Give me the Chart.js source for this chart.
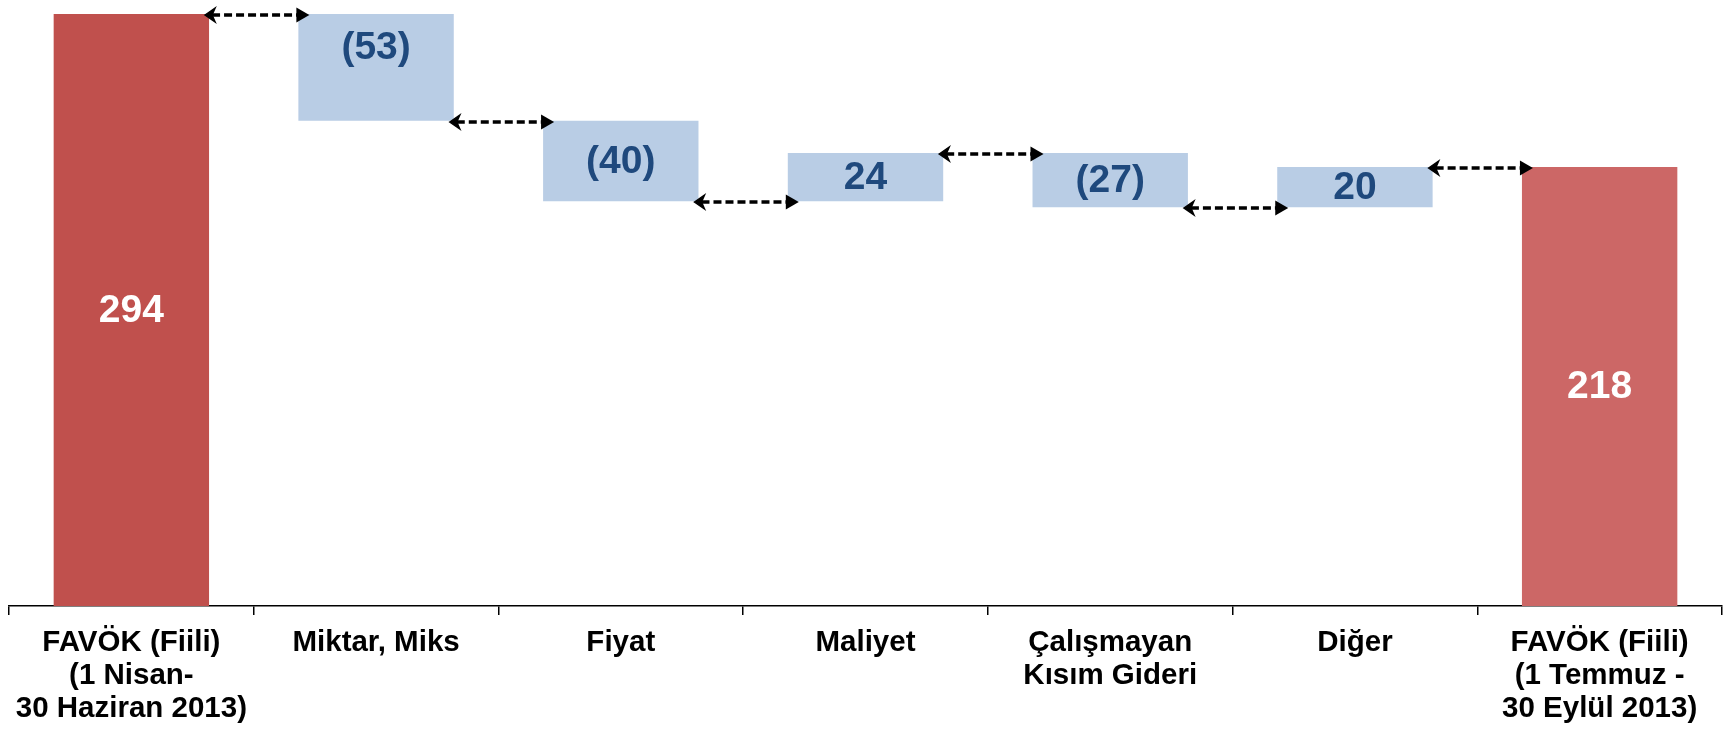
<!DOCTYPE html>
<html>
<head>
<meta charset="utf-8">
<script src="https://cdn.jsdelivr.net/npm/chart.js@4"></script>
<style>
    html, body { margin: 0; padding: 0; background: #fff; }
    #wrap { width: 1731px; height: 731px; }
</style>
</head>
<body>
<div id="wrap"><canvas id="waterfallChart"></canvas></div>
<script>
const categories = [
    ["FAVÖK (Fiili)", "(1 Nisan-", "30 Haziran 2013)"],
    "Miktar, Miks",
    "Fiyat",
    "Maliyet",
    ["Çalışmayan", "Kısım Gideri"],
    "Diğer",
    ["FAVÖK (Fiili)", "(1 Temmuz -", "30 Eylül 2013)"]
];
const values = [294, -53, -40, 24, -27, 20, 218];
const isTotal = [true, false, false, false, false, false, true];

const totalColors = ["#C0504D", "#CC6766"];
const deltaColor = "#B9CDE5";

// floating bars: totals start at zero, changes start at running sum
let running = 0;
const bars = values.map((v, i) => {
    if (isTotal[i]) {
        running = v;
        return [0, v];
    }
    const from = running;
    running += v;
    return [from, running];
});
const levels = bars.map(b => b[1]);

const fmt = v => v < 0 ? "(" + Math.abs(v) + ")" : String(v);

const barColors = values.map((v, i) => {
    if (!isTotal[i]) return deltaColor;
    return i === 0 ? totalColors[0] : totalColors[1];
});

const labelPlugin = {
    id: "waterfallLabels",
    afterDatasetsDraw(chart) {
        const ctx = chart.ctx;
        const meta = chart.getDatasetMeta(0);
        const yScale = chart.scales.y;
        ctx.save();

        // dashed connector arrows
        ctx.strokeStyle = "#000";
        ctx.fillStyle = "#000";
        for (let i = 0; i < meta.data.length - 1; i++) {
            const a = meta.data[i], b = meta.data[i + 1];
            const y = Math.round(yScale.getPixelForValue(levels[i])) + 1;
            const x1 = a.x + a.width / 2 - 4;
            const x2 = b.x - b.width / 2 + 11;
            ctx.lineWidth = 3.5;
            ctx.setLineDash([8, 4]);
            ctx.beginPath();
            ctx.moveTo(x1 + 7, y);
            ctx.lineTo(x2 - 12, y);
            ctx.stroke();
            ctx.setLineDash([]);
            // notched head on the left
            ctx.beginPath();
            ctx.moveTo(x1, y);
            ctx.lineTo(x1 + 10, y - 7);
            ctx.lineTo(x1 + 7, y);
            ctx.lineTo(x1 + 10, y + 7);
            ctx.closePath();
            ctx.fill();
            ctx.lineWidth = 1.5;
            ctx.stroke();
            // filled head on the right
            ctx.beginPath();
            ctx.moveTo(x2, y);
            ctx.lineTo(x2 - 13, y - 7.5);
            ctx.lineTo(x2 - 13, y + 7.5);
            ctx.closePath();
            ctx.fill();
        }

        // value labels
        ctx.font = "bold 39px 'Liberation Sans', Arial, sans-serif";
        ctx.textAlign = "center";
        ctx.textBaseline = "middle";
        meta.data.forEach((el, i) => {
            const top = Math.min(el.y, el.base);
            const h = Math.abs(el.base - el.y);
            let y = top + h / 2;
            if (!isTotal[i] && h > 100) y = top + 33;
            ctx.fillStyle = isTotal[i] ? "#fff" : "#1F497D";
            ctx.fillText(fmt(values[i]), el.x, y + 1);
        });
        ctx.restore();
    }
};

new Chart(document.getElementById("waterfallChart"), {
    type: "bar",
    data: {
        labels: categories,
        datasets: [{
            data: bars,
            backgroundColor: barColors,
            borderWidth: 0,
            borderSkipped: false,
            categoryPercentage: 1,
            barPercentage: 0.635
        }]
    },
    options: {
        responsive: true,
        maintainAspectRatio: false,
        animation: false,
        layout: { padding: { left: 9, right: 9, top: 0, bottom: 0 } },
        plugins: {
            legend: { display: false },
            tooltip: { enabled: false }
        },
        scales: {
            x: {
                afterFit(scale) { scale.height = 125; },
                grid: {
                    offset: true,
                    drawOnChartArea: false,
                    drawTicks: true,
                    tickLength: 9,
                    color: "#000",
                    lineWidth: 1.5
                },
                border: { display: true, color: "#000", width: 1.5 },
                ticks: {
                    color: "#000",
                    padding: 11,
                    maxRotation: 0,
                    autoSkip: false,
                    font: { family: "'Liberation Sans', Arial, sans-serif", size: 29.5, weight: "bold", lineHeight: "33px" }
                }
            },
            y: {
                display: false,
                min: 0,
                max: 301
            }
        }
    },
    plugins: [labelPlugin]
});
</script>
</body>
</html>
